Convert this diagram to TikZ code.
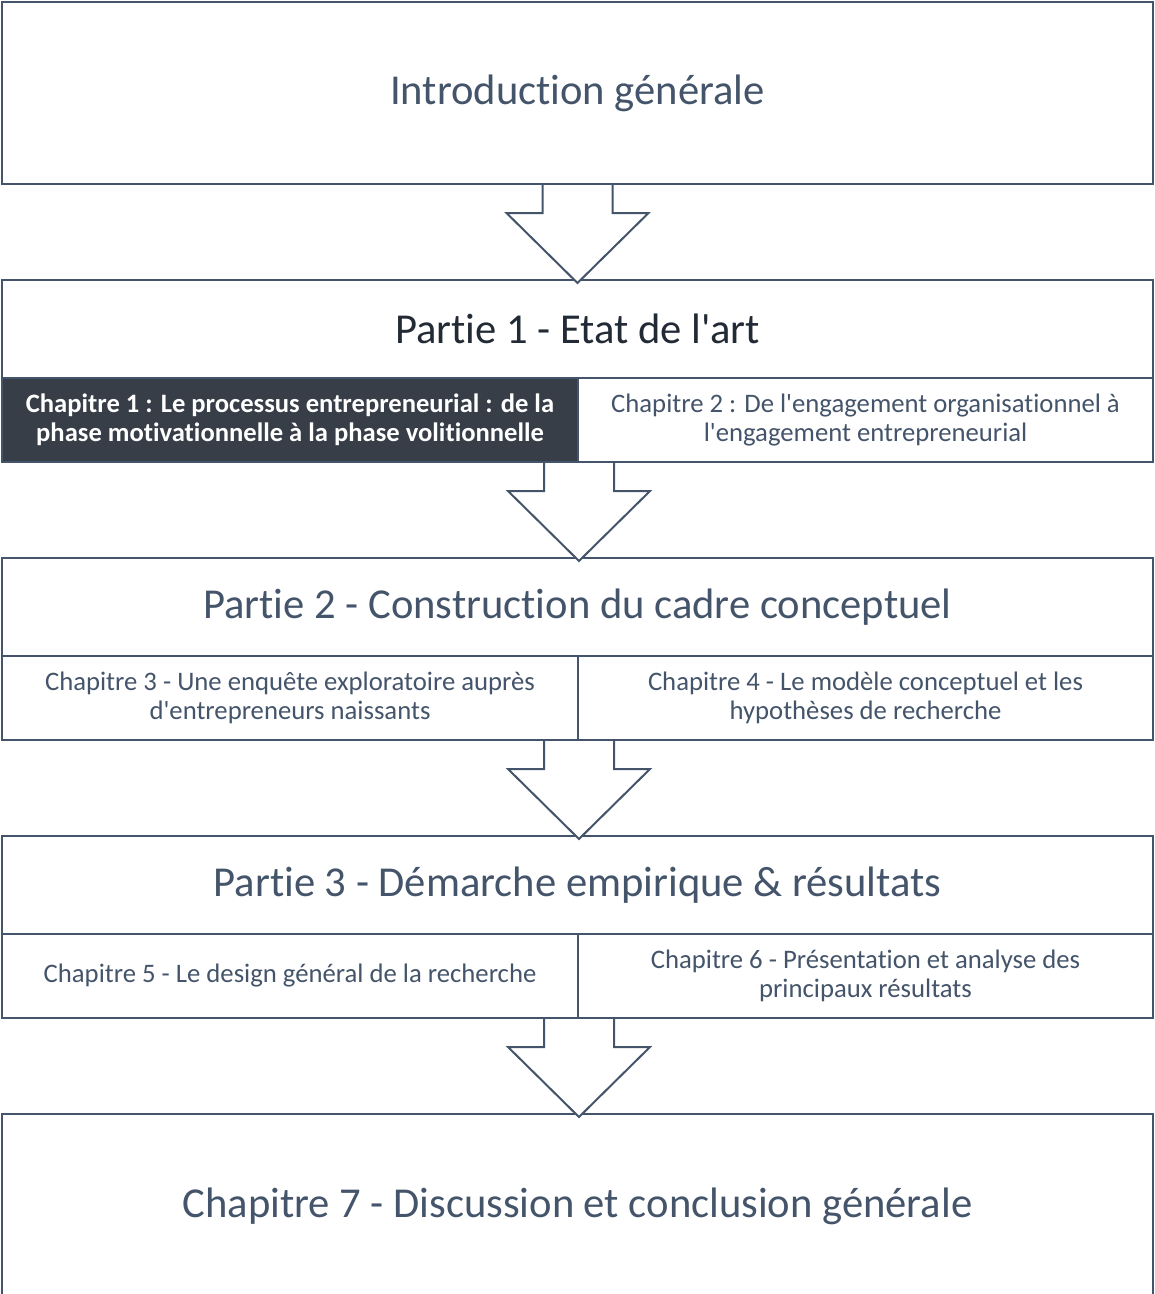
\documentclass[tikz,border=0pt]{standalone}
\usepackage{fontspec}
\setmainfont{Carlito}[Ligatures={NoCommon}]
\usetikzlibrary{calc}
\definecolor{linec}{HTML}{44546A}
\definecolor{txtc}{HTML}{44546A}
\definecolor{darktxt}{HTML}{222A35}
\definecolor{darkfill}{HTML}{383E48}
\tikzset{
  box/.style={draw=linec, line width=2pt, fill=white, rectangle, inner sep=0pt, text=txtc, align=center},
  bigtxt/.style={font=\fontsize{42.6}{48}\selectfont},
  chaptxt/.style={font=\fontsize{26.7}{29}\selectfont},
  blockarrow/.style={draw=linec, line width=2pt, fill=white, line join=miter}
}
\newcommand{\blockarr}[1]{%
  \draw[blockarrow] ($(#1)+(-35,0)$) -- ++(0,28) -- ++(-36,0) -- ++(71,70) -- ++(71,-70) -- ++(-36,0) -- ++(0,-28);}
\newcommand{\apos}{\textquotesingle}
\begin{document}
\begin{tikzpicture}[x=1pt,y=-1pt]
\clip (0,0) rectangle (1155,1294);
\useasboundingbox (0,0) rectangle (1155,1294);
% Introduction
\node[box, bigtxt, minimum width=1151pt, minimum height=182pt] (intro) at (577.5,93) {Introduction générale};
% Partie 1
\node[box, bigtxt, text=darktxt, minimum width=1151pt, minimum height=98pt] (p1) at (577.5,329) {Partie 1 - Etat de l\apos art};
\node[box, chaptxt, fill=darkfill, text=white, font=\fontsize{26.6}{29}\selectfont\bfseries, minimum width=576pt, minimum height=84pt] (c1) at (290,420) {Chapitre 1 : Le processus entrepreneurial : de la\\phase motivationnelle à la phase volitionnelle};
\node[box, chaptxt, minimum width=575pt, minimum height=84pt] (c2) at (865.5,420) {Chapitre 2 : De l\apos engagement organisationnel à\\l\apos engagement entrepreneurial};
% Partie 2
\node[box, bigtxt, minimum width=1151pt, minimum height=98pt] (p2) at (577.5,607) {Partie 2 - Construction du cadre conceptuel};
\node[box, chaptxt, minimum width=576pt, minimum height=84pt] (c3) at (290,698) {Chapitre 3 - Une enquête exploratoire auprès\\d\apos entrepreneurs naissants};
\node[box, chaptxt, minimum width=575pt, minimum height=84pt] (c4) at (865.5,698) {Chapitre 4 - Le modèle conceptuel et les\\hypothèses de recherche};
% Partie 3
\node[box, bigtxt, minimum width=1151pt, minimum height=98pt] (p3) at (577.5,885) {Partie 3 - Démarche empirique \& résultats};
\node[box, chaptxt, minimum width=576pt, minimum height=84pt] (c5) at (290,976) {Chapitre 5 - Le design général de la recherche};
\node[box, chaptxt, minimum width=575pt, minimum height=84pt] (c6) at (865.5,976) {Chapitre 6 - Présentation et analyse des\\principaux résultats};
% Chapitre 7
\node[box, bigtxt, minimum width=1151pt, minimum height=184pt] (c7) at (577.5,1206) {Chapitre 7 - Discussion et conclusion générale};
% arrows
\coordinate (a1) at (intro.south);
\coordinate (a2) at (c1.south east);
\coordinate (a3) at (c3.south east);
\coordinate (a4) at (c5.south east);
\blockarr{a1}
\blockarr{a2}
\blockarr{a3}
\blockarr{a4}
\end{tikzpicture}
\end{document}
